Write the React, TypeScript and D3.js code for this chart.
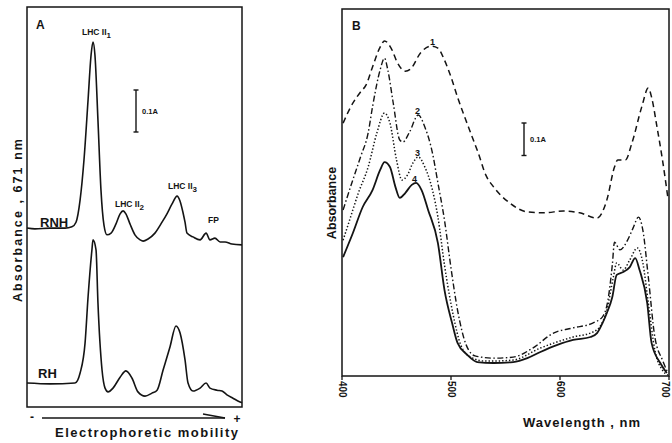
import React, { useEffect, useRef } from "react";
import * as d3 from "d3";

// Panel A: densitometer scans of the gel (mobility in % of run, absorbance at 671 nm)
const mobilityRNH = [0, 3.7, 10.7, 17.7, 20.9, 22.8, 24.7, 26.5, 28.4, 29.8, 30.7, 31.6, 33.0, 34.4, 35.8, 37.2, 39.1, 41.4, 43.3, 44.7, 46.0, 47.9, 50.2, 52.6, 54.0, 56.3, 59.5, 62.8, 65.1, 67.4, 69.8, 71.2, 72.6, 73.5, 74.4, 77.2, 80.5, 83.3, 85.1, 87.4, 89.8, 92.1, 95.3, 100];
const absRNH = [0.426, 0.424, 0.426, 0.426, 0.429, 0.44, 0.493, 0.588, 0.731, 0.838, 0.869, 0.838, 0.683, 0.517, 0.433, 0.41, 0.414, 0.436, 0.46, 0.467, 0.46, 0.436, 0.41, 0.398, 0.395, 0.4, 0.414, 0.44, 0.46, 0.483, 0.502, 0.49, 0.462, 0.44, 0.414, 0.405, 0.398, 0.414, 0.398, 0.402, 0.393, 0.393, 0.388, 0.386];
const mobilityRH = [0, 10.7, 22.3, 24.7, 27.0, 28.4, 30.2, 30.7, 32.1, 33.0, 34.9, 36.3, 37.7, 40.0, 43.3, 46.0, 48.8, 51.6, 54.9, 58.1, 60.5, 63.3, 66.5, 69.3, 71.2, 73.5, 74.9, 77.2, 80.5, 83.3, 85.1, 88.4, 90.7, 93.0, 95.8, 99.1, 100];
const absRH = [0.057, 0.055, 0.057, 0.081, 0.152, 0.262, 0.374, 0.398, 0.374, 0.248, 0.088, 0.045, 0.036, 0.045, 0.071, 0.086, 0.069, 0.036, 0.026, 0.033, 0.04, 0.088, 0.143, 0.193, 0.176, 0.112, 0.057, 0.038, 0.045, 0.057, 0.045, 0.04, 0.038, 0.029, 0.021, 0.012, 0.01];

// Panel B: absorption spectra, curves 1-4
const wl1 = [401, 408, 417, 422, 428, 435, 439, 445, 451, 458, 463, 472, 482, 488, 494, 500, 506, 516, 525, 532, 539, 554, 570, 586, 603, 618, 634, 643, 650, 653, 660, 666, 675, 681, 684, 689, 694, 699];
const abs1 = [0.778, 0.828, 0.874, 0.895, 0.951, 1.012, 1.031, 1.009, 0.963, 0.938, 0.945, 0.994, 1.015, 1.009, 0.972, 0.92, 0.858, 0.766, 0.686, 0.618, 0.582, 0.532, 0.505, 0.502, 0.508, 0.502, 0.486, 0.542, 0.643, 0.665, 0.665, 0.717, 0.828, 0.886, 0.858, 0.766, 0.665, 0.548];
const wl2 = [401, 409, 417, 424, 428, 435, 439, 442, 447, 453, 456, 462, 470, 476, 483, 488, 494, 500, 506, 514, 522, 539, 557, 575, 594, 612, 630, 639, 644, 648, 650, 655, 662, 667, 672, 676, 681, 687, 694, 699];
const abs2 = [0.511, 0.594, 0.674, 0.748, 0.828, 0.942, 0.978, 0.942, 0.84, 0.726, 0.72, 0.751, 0.803, 0.766, 0.686, 0.594, 0.48, 0.332, 0.203, 0.095, 0.062, 0.055, 0.058, 0.086, 0.132, 0.148, 0.163, 0.182, 0.234, 0.342, 0.412, 0.388, 0.418, 0.455, 0.489, 0.449, 0.305, 0.12, 0.049, 0.009];
const wl3 = [401, 407, 415, 424, 432, 439, 444, 450, 455, 460, 465, 470, 476, 483, 488, 494, 502, 509, 518, 531, 539, 557, 582, 612, 630, 637, 643, 649, 652, 658, 664, 671, 676, 681, 687, 694, 699];
const abs3 = [0.418, 0.48, 0.563, 0.643, 0.748, 0.809, 0.778, 0.665, 0.603, 0.618, 0.655, 0.674, 0.643, 0.572, 0.489, 0.342, 0.188, 0.095, 0.058, 0.046, 0.046, 0.049, 0.086, 0.12, 0.135, 0.154, 0.203, 0.305, 0.348, 0.326, 0.357, 0.394, 0.348, 0.225, 0.08, 0.018, 0.003];
const wl4 = [401, 410, 419, 428, 435, 439, 444, 449, 453, 458, 464, 468, 473, 479, 488, 494, 501, 506, 515, 524, 539, 557, 570, 582, 597, 612, 628, 634, 639, 643, 648, 652, 658, 664, 669, 673, 680, 684, 692, 698];
const abs4 = [0.366, 0.44, 0.52, 0.572, 0.634, 0.658, 0.643, 0.582, 0.548, 0.563, 0.588, 0.594, 0.572, 0.511, 0.409, 0.265, 0.163, 0.102, 0.065, 0.043, 0.04, 0.043, 0.055, 0.074, 0.095, 0.111, 0.12, 0.132, 0.163, 0.194, 0.243, 0.311, 0.32, 0.335, 0.363, 0.326, 0.225, 0.102, 0.04, 0.009];
const wavelengthTicks = [400, 500, 600, 700];

const App = () => {
  const svgRef = useRef<SVGSVGElement | null>(null);

  useEffect(() => {
    const width = 672;
    const height = 443;
    const ink = "#141414";
    const font = "'Liberation Sans', Arial, sans-serif";

    const svg = d3.select(svgRef.current).attr("width", width).attr("height", height);
    svg.selectAll("*").remove();
    svg.append("rect").attr("width", width).attr("height", height).attr("fill", "#fff");

    const text = (x: number, y: number, s: string, size: number, anchor = "start") =>
      svg.append("text")
        .attr("x", x)
        .attr("y", y)
        .attr("font-family", font)
        .attr("font-weight", "bold")
        .attr("font-size", size)
        .attr("text-anchor", anchor)
        .attr("fill", ink)
        .text(s);

    const lhc = (x: number, y: number, sub: string) => {
      const t = svg.append("text")
        .attr("x", x)
        .attr("y", y)
        .attr("font-family", font)
        .attr("font-weight", "bold")
        .attr("font-size", 8.5)
        .attr("fill", ink);
      t.append("tspan").text("LHC II");
      t.append("tspan").attr("dy", 3).attr("font-size", 8).text(sub);
    };

    const scaleBar = (x: number, top: number, len: number, labelX: number) => {
      const g = svg.append("g").attr("stroke", ink).attr("stroke-width", 1.4);
      g.append("line").attr("x1", x).attr("x2", x).attr("y1", top).attr("y2", top + len);
      g.append("line").attr("x1", x - 2.5).attr("x2", x + 2.5).attr("y1", top).attr("y2", top);
      g.append("line").attr("x1", x - 2.5).attr("x2", x + 2.5).attr("y1", top + len).attr("y2", top + len);
      text(labelX, top + len / 2 + 3, "0.1A", 7.5);
    };

    // ---------- Panel A ----------
    const xA = d3.scaleLinear().domain([0, 100]).range([27, 242]);
    const yA = d3.scaleLinear().domain([0, 400 / 420]).range([407, 7]);

    svg.append("rect")
      .attr("x", xA(0)).attr("y", yA(yA.domain()[1]))
      .attr("width", xA(100) - xA(0)).attr("height", yA(0) - yA(yA.domain()[1]))
      .attr("fill", "none").attr("stroke", ink).attr("stroke-width", 1.5);

    const lineA = d3.line<[number, number]>()
      .x((d) => xA(d[0]))
      .y((d) => yA(d[1]))
      .curve(d3.curveMonotoneX);

    [d3.zip(mobilityRNH, absRNH), d3.zip(mobilityRH, absRH)].forEach((pts) => {
      svg.append("path")
        .attr("d", lineA(pts as [number, number][]))
        .attr("fill", "none")
        .attr("stroke", ink)
        .attr("stroke-width", 1.6);
    });

    text(36, 29, "A", 12);
    lhc(82, 35, "1");
    lhc(115, 207, "2");
    lhc(168, 189, "3");
    text(208, 223, "FP", 8.5);
    text(40, 227, "RNH", 13);
    text(38, 378, "RH", 13);
    scaleBar(136, 90, yA(0) - yA(0.1), 142);

    // electrophoresis direction arrow
    const arrow = svg.append("g").attr("stroke", ink).attr("stroke-width", 1.3);
    arrow.append("line").attr("x1", 42).attr("x2", 225).attr("y1", 418).attr("y2", 418);
    arrow.append("line").attr("x1", 203).attr("x2", 225).attr("y1", 414).attr("y2", 418);
    text(32, 421, "-", 12, "middle");
    text(237, 423, "+", 12, "middle");
    text(55, 437, "Electrophoretic  mobility", 13)
      .attr("textLength", 183).attr("lengthAdjust", "spacing");

    text(0, 0, "Absorbance , 671 nm", 12.5)
      .attr("transform", "translate(22,302) rotate(-90)")
      .attr("textLength", 163).attr("lengthAdjust", "spacing");

    // ---------- Panel B ----------
    const xB = d3.scaleLinear().domain([400, 700]).range([342, 669]);
    const yB = d3.scaleLinear().domain([0, 367 / 325]).range([376, 9]);

    svg.append("rect")
      .attr("x", xB(400)).attr("y", yB(yB.domain()[1]))
      .attr("width", xB(700) - xB(400)).attr("height", yB(0) - yB(yB.domain()[1]))
      .attr("fill", "none").attr("stroke", ink).attr("stroke-width", 1.5);

    const lineB = d3.line<[number, number]>()
      .x((d) => xB(d[0]))
      .y((d) => yB(d[1]))
      .curve(d3.curveMonotoneX);

    const spectra = [
      { wl: wl1, abs: abs1, dash: "6,4", w: 1.5 },
      { wl: wl2, abs: abs2, dash: "6,2.5,1.5,2.5", w: 1.4 },
      { wl: wl3, abs: abs3, dash: "1.4,2", w: 1.5 },
      { wl: wl4, abs: abs4, dash: null, w: 1.8 },
    ];
    spectra.forEach((s) => {
      svg.append("path")
        .attr("d", lineB(d3.zip(s.wl, s.abs) as [number, number][]))
        .attr("fill", "none")
        .attr("stroke", ink)
        .attr("stroke-width", s.w)
        .attr("stroke-dasharray", s.dash);
    });

    // x axis ticks, labels rotated (last one nudged inside the page)
    wavelengthTicks.forEach((t, i) => {
      svg.append("line")
        .attr("x1", xB(t)).attr("x2", xB(t))
        .attr("y1", yB(0)).attr("y2", yB(0) + 4)
        .attr("stroke", ink).attr("stroke-width", 1.3);
      const lx = i === wavelengthTicks.length - 1 ? xB(t) - 4 : xB(t);
      text(0, 0, String(t), 10)
        .attr("dominant-baseline", "central")
        .attr("transform", `translate(${lx},${yB(0) + 5}) rotate(90)`);
    });

    text(523, 427, "Wavelength , nm", 13)
      .attr("textLength", 117).attr("lengthAdjust", "spacing");
    text(0, 0, "Absorbance", 12.5)
      .attr("text-anchor", "middle")
      .attr("transform", "translate(336,203) rotate(-90)");

    text(352, 30, "B", 12);
    text(430, 45, "1", 9);
    text(415, 114, "2", 9);
    text(415, 156, "3", 9);
    text(412, 182, "4", 9);
    scaleBar(524, 123, yB(0) - yB(0.1), 530);
  }, []);

  return <svg ref={svgRef} style={{ position: "absolute", left: 0, top: 0 }}></svg>;
};

export default App;
